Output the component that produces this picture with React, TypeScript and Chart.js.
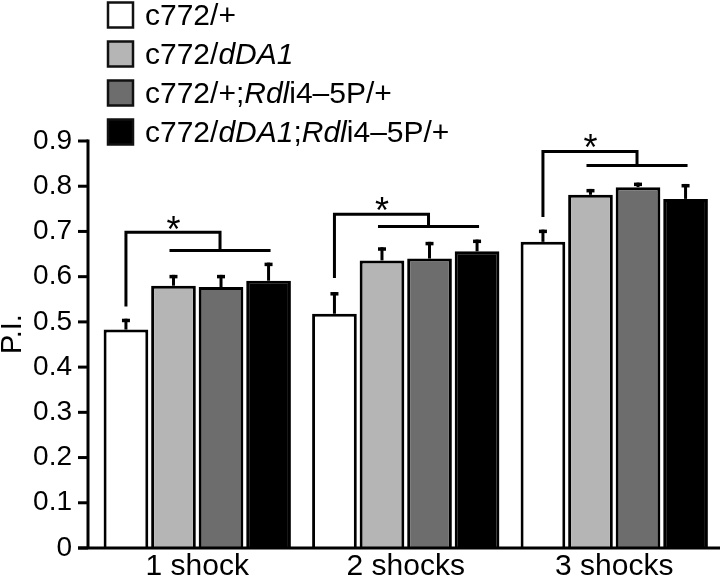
import React, { useEffect, useRef } from 'react';
import { Chart, registerables } from 'chart.js';

Chart.register(...registerables);

const FONT = '"Liberation Sans", Arial, Helvetica, sans-serif';

// Categories and series
const categories = ['1 shock', '2 shocks', '3 shocks'];
const seriesNames = ['c772/+', 'c772/dDA1', 'c772/+;Rdli4–5P/+', 'c772/dDA1;Rdli4–5P/+'];
// legend label segments: [text, italic]
const legendSegments: [string, boolean][][] = [
  [['c772/+', false]],
  [['c772/', false], ['dDA1', true]],
  [['c772/+;', false], ['Rdl', true], ['i4–5P/+', false]],
  [['c772/', false], ['dDA1', true], [';', false], ['Rdl', true], ['i4–5P/+', false]],
];
const seriesColors = ['#ffffff', '#b5b5b5', '#6d6d6d', '#000000'];

// Values (P.I.)
const ctrlValues = [0.483, 0.518, 0.677];
const dda1Values = [0.58, 0.636, 0.781];
const rdlValues = [0.577, 0.64, 0.798];
const bothValues = [0.591, 0.656, 0.772];

// Error bars (upper, SEM)
const ctrlErr = [0.024, 0.048, 0.027];
const dda1Err = [0.024, 0.029, 0.013];
const rdlErr = [0.027, 0.037, 0.01];
const bothErr = [0.04, 0.026, 0.033];

// Significance brackets (in P.I. units)
const bracketStart = [0.534, 0.597, 0.732];
const bracketTop = [0.698, 0.738, 0.877];
const bracketLower = [0.658, 0.711, 0.846];
const starLevel = [0.723, 0.765, 0.904];
const starText = ['*', '*', '*'];

// Y axis
const yTickValues = [0, 0.1, 0.2, 0.3, 0.4, 0.5, 0.6, 0.7, 0.8, 0.9];
const yTitle = 'P.I.';

const seriesValues = [ctrlValues, dda1Values, rdlValues, bothValues];
const seriesErrors = [ctrlErr, dda1Err, rdlErr, bothErr];

const overlayPlugin = {
  id: 'overlay',
  afterDatasetsDraw(chart: any) {
    const ctx = chart.ctx as CanvasRenderingContext2D;
    const y = chart.scales.y;
    const area = chart.chartArea;
    ctx.save();
    ctx.strokeStyle = '#000';
    ctx.fillStyle = '#000';
    ctx.lineCap = 'butt';
    ctx.lineJoin = 'miter';

    // error bars
    chart.data.datasets.forEach((ds: any, di: number) => {
      const meta = chart.getDatasetMeta(di);
      meta.data.forEach((bar: any, i: number) => {
        const v = ds.data[i];
        const e = seriesErrors[di][i];
        const top = y.getPixelForValue(v + e);
        ctx.lineWidth = 3;
        ctx.beginPath();
        ctx.moveTo(bar.x, bar.y);
        ctx.lineTo(bar.x, top);
        ctx.stroke();
        ctx.lineWidth = 3.5;
        ctx.beginPath();
        ctx.moveTo(bar.x - 4, top + 1.75);
        ctx.lineTo(bar.x + 4, top + 1.75);
        ctx.stroke();
      });
    });

    // brackets
    const m0 = chart.getDatasetMeta(0).data;
    const m1 = chart.getDatasetMeta(1).data;
    const m3 = chart.getDatasetMeta(3).data;
    categories.forEach((_c, i) => {
      const xW = m0[i].x;
      const xL = m1[i].x - 4;
      const xB = m3[i].x + 2;
      const mid = (xL + xB) / 2;
      const yS = y.getPixelForValue(bracketStart[i]);
      const yT = y.getPixelForValue(bracketTop[i]);
      const yLo = y.getPixelForValue(bracketLower[i]);
      ctx.lineWidth = 3;
      ctx.beginPath();
      ctx.moveTo(xW, yS);
      ctx.lineTo(xW, yT);
      ctx.lineTo(mid, yT);
      ctx.lineTo(mid, yLo);
      ctx.stroke();
      ctx.beginPath();
      ctx.moveTo(xL, yLo);
      ctx.lineTo(xB, yLo);
      ctx.stroke();
      ctx.font = `36px ${FONT}`;
      ctx.textAlign = 'center';
      ctx.textBaseline = 'alphabetic';
      ctx.fillText(starText[i], m1[i].x, y.getPixelForValue(starLevel[i]) + 20.5);
    });

    // axes
    const axisX = area.left - 5;
    const y0 = y.getPixelForValue(0);
    const yMax = y.getPixelForValue(yTickValues[yTickValues.length - 1]);
    ctx.lineWidth = 3;
    ctx.beginPath();
    ctx.moveTo(axisX, yMax - 1.5);
    ctx.lineTo(axisX, y0);
    ctx.stroke();
    yTickValues.forEach((v) => {
      const py = y.getPixelForValue(v);
      ctx.beginPath();
      ctx.moveTo(axisX - 10, py);
      ctx.lineTo(axisX, py);
      ctx.stroke();
    });
    ctx.beginPath();
    ctx.moveTo(axisX - 10, y0);
    ctx.lineTo(chart.width, y0);
    ctx.stroke();

    // y title
    ctx.save();
    ctx.translate(21, 334);
    ctx.rotate(-Math.PI / 2);
    ctx.font = `29px ${FONT}`;
    ctx.textAlign = 'center';
    ctx.textBaseline = 'alphabetic';
    ctx.fillText(yTitle, 0, 0);
    ctx.restore();

    // legend
    legendSegments.forEach((segs, i) => {
      const boxTop = 2.5 + 39 * i;
      ctx.fillStyle = seriesColors[i];
      ctx.fillRect(108, boxTop, 25, 25);
      ctx.strokeStyle = '#111';
      ctx.lineWidth = 2.5;
      ctx.strokeRect(108, boxTop, 25, 25);
      ctx.fillStyle = '#000';
      let tx = 145;
      const base = 25 + 38.9 * i;
      ctx.textAlign = 'left';
      ctx.textBaseline = 'alphabetic';
      segs.forEach(([t, it]) => {
        ctx.font = `${it ? 'italic ' : ''}30px ${FONT}`;
        ctx.fillText(t, tx, base);
        tx += ctx.measureText(t).width;
      });
    });
    ctx.restore();
  },
};

export default function App() {
  const ref = useRef<HTMLCanvasElement | null>(null);
  useEffect(() => {
    if (!ref.current) return;
    const chart = new Chart(ref.current, {
      type: 'bar',
      data: {
        labels: categories,
        datasets: seriesNames.map((name, i) => ({
          label: name,
          data: seriesValues[i],
          backgroundColor: seriesColors[i],
          borderColor: '#000',
          borderWidth: 3,
          barPercentage: 0.94,
          categoryPercentage: 0.912,
        })),
      },
      options: {
        responsive: false,
        animation: false,
        layout: { padding: { top: 141, right: 1.5, left: 0, bottom: 0 } },
        plugins: { legend: { display: false }, tooltip: { enabled: false } },
        scales: {
          x: {
            grid: { display: false, drawTicks: false },
            border: { display: false },
            ticks: { color: '#000', font: { family: FONT, size: 30 }, padding: 1 },
            afterFit: (s: any) => {
              s.height = 30;
            },
          },
          y: {
            min: 0,
            max: 0.9,
            grid: { display: false, drawTicks: false },
            border: { display: false },
            ticks: {
              stepSize: 0.1,
              color: '#000',
              // small lineHeight keeps the scale's end padding below the 30px x-axis band
              font: { family: FONT, size: 28, lineHeight: 0.6 },
              padding: 21,
              callback: (v: any) => (Number(v) === 0 ? '0' : Number(v).toFixed(1)),
            },
            afterFit: (s: any) => {
              s.width = 93;
            },
          },
        },
      },
      plugins: [overlayPlugin],
    });
    return () => chart.destroy();
  }, []);
  return (
    <div style={{ position: 'fixed', left: 0, top: 0, width: 720, height: 578, background: '#fff' }}>
      <canvas ref={ref} width={720} height={578} style={{ display: 'block' }} />
    </div>
  );
}
